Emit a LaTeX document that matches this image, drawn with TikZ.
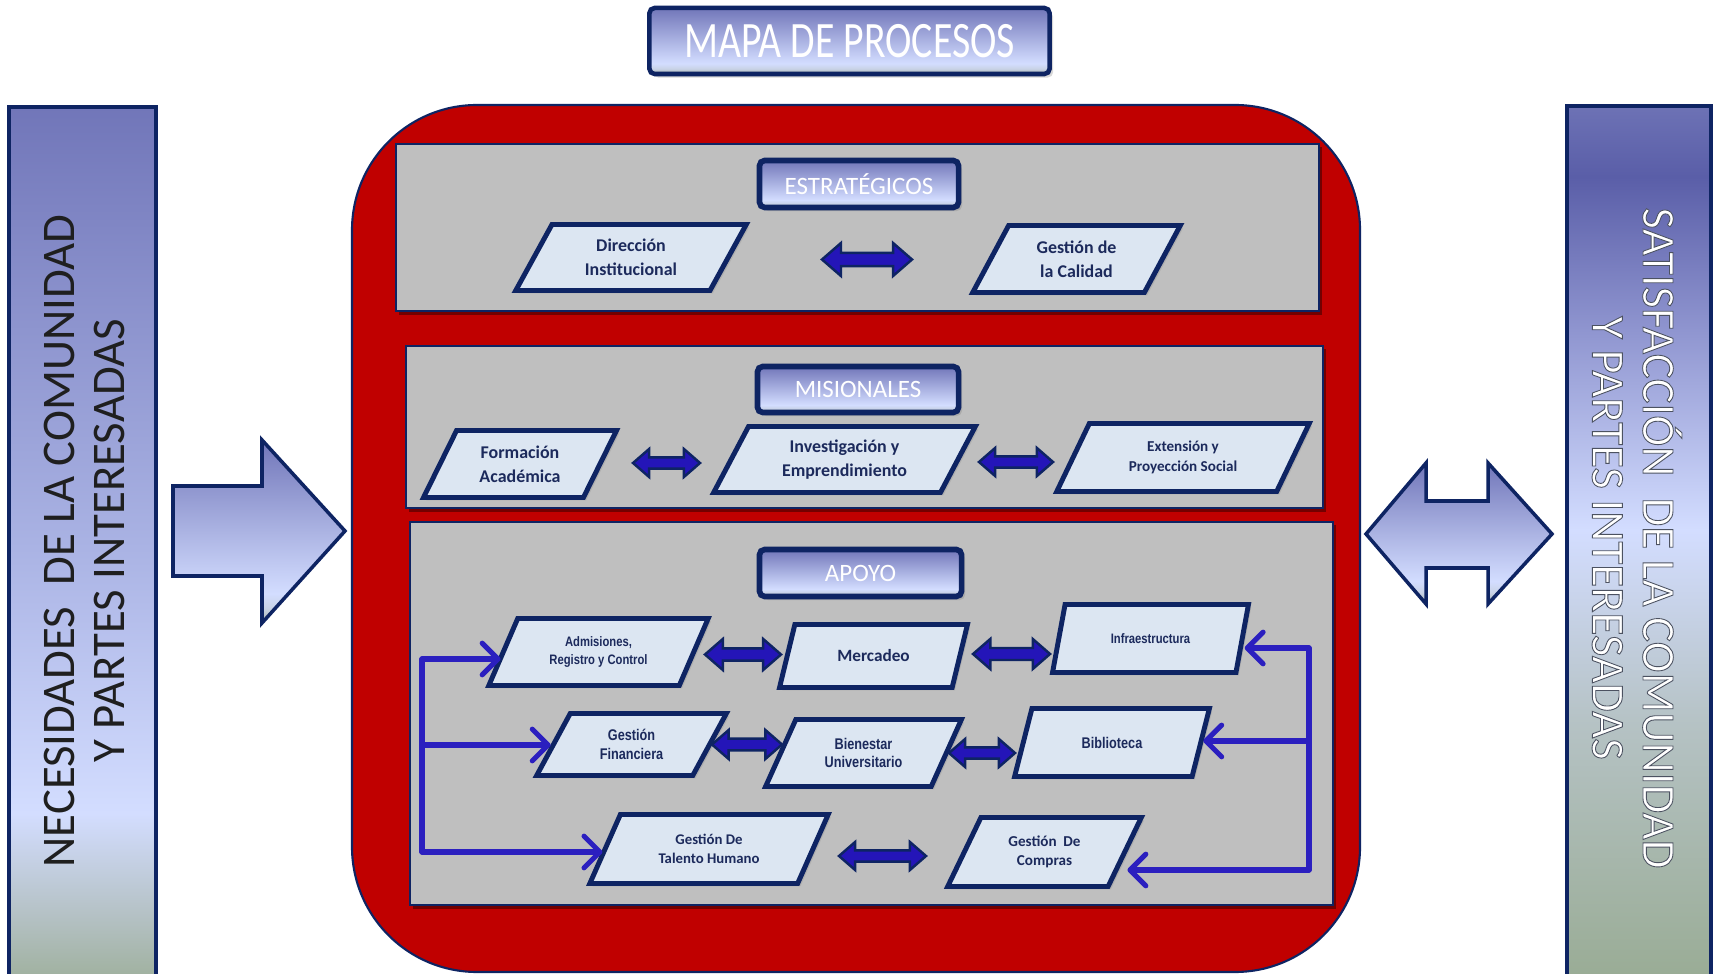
\documentclass[tikz,border=0pt]{standalone}
\usepackage{fontspec}
\setmainfont{Carlito}
\newfontfamily\headfont[FakeStretch=0.78]{Carlito}
\newfontfamily\narrowfont[FakeStretch=0.82]{Liberation Sans}
\usetikzlibrary{shapes.geometric, arrows.meta, shadows}

% palette
\definecolor{navy}{HTML}{0E2463}
\definecolor{boxred}{HTML}{C00000}
\definecolor{panelgray}{HTML}{BFBFBF}
\definecolor{parafill}{HTML}{DCE6F2}
\definecolor{paratext}{HTML}{1C2A5C}
\definecolor{linkblue}{HTML}{2B1FBF}
\definecolor{arrowblue}{HTML}{2415B8}
% gradient stops
\definecolor{gdark}{HTML}{7176B9}
\definecolor{gmid}{HTML}{AAB3E4}
\definecolor{glight}{HTML}{D3DDFF}
\definecolor{gsoft}{HTML}{B3C0C2}
\definecolor{ggreen}{HTML}{9CAE98}
\definecolor{rdark}{HTML}{5A5EA8}
\definecolor{rtop}{HTML}{6D72B5}
\definecolor{rmid}{HTML}{9197D1}
\definecolor{rgray}{HTML}{B5C2C4}
\definecolor{rgreen}{HTML}{98AB93}
\definecolor{pgreen}{HTML}{A4B0A6}
\definecolor{psoft}{HTML}{C8D2E6}

% bottom of the path = 25bp, top = 75bp
\pgfdeclareverticalshading{sidebarL}{100bp}{color(0bp)=(ggreen); color(25bp)=(ggreen); color(29bp)=(gsoft); color(35bp)=(glight); color(50bp)=(gmid); color(75bp)=(gdark); color(100bp)=(gdark)}
\pgfdeclareverticalshading{sidebarR}{100bp}{color(0bp)=(rgreen); color(25bp)=(rgreen); color(40bp)=(rgray); color(51bp)=(glight); color(62bp)=(rmid); color(71bp)=(rdark); color(75bp)=(rtop); color(100bp)=(rtop)}
\pgfdeclareverticalshading{plate}{100bp}{color(0bp)=(pgreen); color(25bp)=(pgreen); color(29bp)=(psoft); color(33bp)=(glight); color(75bp)=(gdark); color(100bp)=(gdark)}

% outlined text for the right-hand bar
\newcommand\outlinedtext[1]{\special{pdf:literal direct 2 Tr 0.25 w 0.30 0.32 0.38 RG}#1\special{pdf:literal direct 0 Tr}}

\begin{document}
\begin{tikzpicture}[x=0.01cm, y=-0.01cm,
  para/.style={trapezium, trapezium left angle=60, trapezium right angle=120,
    trapezium stretches=true, draw=navy, line width=1.4pt, fill=parafill,
    inner sep=0pt, align=center, text=paratext,
    drop shadow={opacity=.25, shadow xshift=.8pt, shadow yshift=-.8pt}},
  topfont/.style={font=\bfseries\fontsize{5.1}{6.8}\selectfont},
  smallfont/.style={font=\narrowfont\bfseries\fontsize{3.9}{5}\selectfont},
  midfont/.style={font=\narrowfont\bfseries\fontsize{4.4}{5.3}\selectfont},
  label/.style={draw=navy, line width=1.6pt, shade, shading=plate, rounded corners=1.5pt,
    text=white, inner sep=0pt, font=\fontsize{7.1}{8}\selectfont,
    drop shadow={opacity=.3, shadow xshift=1pt, shadow yshift=-1pt}},
  panel/.style={draw=navy, line width=0.45pt, fill=panelgray},
  panelshadow/.style={fill=black, opacity=.4},
  blockarrow/.style={draw=navy, line width=1pt, line join=miter, shade, shading=plate},
  dblarrow/.style={draw=navy, line width=0.7pt, fill=arrowblue, line join=miter},
  conn/.style={draw=linkblue, line width=1.45pt, line cap=round, line join=round},
  tipc/.style={-{Straight Barb[length=4.5pt, width=9pt, round]}},
  sidetext/.style={align=center, inner sep=0pt, font=\fontsize{13.3}{14.4}\selectfont},
  pics/dbl/.style 2 args={code={
    \draw[dblarrow] (-#1,0) -- (-#1+#2*1.15,-#2) -- (-#1+#2*1.15,-#2*0.4)
      -- (#1-#2*1.15,-#2*0.4) -- (#1-#2*1.15,-#2) -- (#1,0)
      -- (#1-#2*1.15,#2) -- (#1-#2*1.15,#2*0.4) -- (-#1+#2*1.15,#2*0.4)
      -- (-#1+#2*1.15,#2) -- cycle;
  }}
]
\useasboundingbox (0,0) rectangle (1713,974);
\fill[white] (0,0) rectangle (1713,974);

% ---- title ----
\node[label, line width=1.3pt, minimum width=4cm, minimum height=0.66cm,
  font=\headfont\fontsize{14.5}{16}\selectfont] (title) at (849.5,41) {MAPA DE PROCESOS};

% ---- side bars ----
\shadedraw[shading=sidebarL, draw=navy, line width=1pt] (9,107) rectangle (156,990);
\node[sidetext, rotate=90, text=black!88] (needs) at (84.5,541)
  {NECESIDADES\ \ DE LA COMUNIDAD\\Y PARTES INTERESADAS};

\shadedraw[shading=sidebarR, draw=navy, line width=1pt] (1567,106) rectangle (1711,990);
\node[sidetext, rotate=-90, text=white] (satis) at (1637,538)
  {\outlinedtext{SATISFACCIÓN\ \ DE LA COMUNIDAD}\\\outlinedtext{Y PARTES INTERESADAS}};

% ---- block arrows outside the container ----
\path[blockarrow] (173,486) -- (262,486) -- (262,440) -- (345,531) -- (262,623)
  -- (262,576) -- (173,576) -- cycle;
\path[blockarrow] (1366,534) -- (1426,463) -- (1426,501) -- (1488,501) -- (1488,463)
  -- (1552,534) -- (1488,604) -- (1488,568) -- (1426,568) -- (1426,604) -- cycle;

% ---- red container ----
\draw[fill=boxred, draw=navy, line width=0.6pt, rounded corners=1.25cm] (352,105) rectangle (1360,972);

% ---- panels ----
\fill[panelshadow] (399,147) rectangle (1322,315);
\draw[panel] (396,144) rectangle (1319,311);
\fill[panelshadow] (409,349) rectangle (1326,512);
\draw[panel] (406,346) rectangle (1323,508);
\fill[panelshadow] (413,525) rectangle (1336,909);
\draw[panel] (410,522) rectangle (1333,905);

% ---- panel headings ----
\node[label, minimum width=1.99cm, minimum height=0.47cm] (lblE) at (859,184) {ESTRATÉGICOS};
\node[label, minimum width=2.01cm, minimum height=0.46cm] (lblM) at (858,389.5) {MISIONALES};
\node[label, minimum width=2.02cm, minimum height=0.47cm] (lblA) at (860.5,573) {APOYO};

% ---- strategic processes ----
\node[para, topfont, minimum width=2.31cm, minimum height=0.66cm] (dir) at (631,257.5) {Dirección\\Institucional};
\node[para, topfont, minimum width=2.08cm, minimum height=0.67cm] (cal) at (1076.5,259) {Gestión de\\la Calidad};
\pic at (867,259.5) {dbl={45}{16.5}};

% ---- mission processes ----
\node[para, topfont, minimum width=1.93cm, minimum height=0.67cm] (form) at (520,464) {Formación\\Académica};
\node[para, topfont, minimum width=2.62cm, minimum height=0.66cm] (inv) at (844.5,459.5) {Investigación y\\Emprendimiento};
\node[para, font=\bfseries\fontsize{4.3}{5.6}\selectfont, minimum width=2.53cm, minimum height=0.68cm] (ext) at (1183,457.5) {Extensión y\\Proyección Social};
\pic at (666.5,463) {dbl={33.5}{14}};
\pic at (1016,462) {dbl={37}{14}};

% ---- support processes ----
\node[para, smallfont, minimum width=2.20cm, minimum height=0.67cm] (adm) at (598.5,652) {Admisiones,\\Registro y Control};
\node[para, font=\bfseries\fontsize{4.9}{6}\selectfont, minimum width=1.88cm, minimum height=0.63cm] (mer) at (873.5,656) {Mercadeo};
\node[para, smallfont, minimum width=1.96cm, minimum height=0.68cm] (inf) at (1150.5,638.5) {Infraestructura};
\node[para, midfont, minimum width=1.90cm, minimum height=0.62cm] (fin) at (631.5,744.5) {Gestión\\Financiera};
\node[para, midfont, minimum width=1.96cm, minimum height=0.67cm] (bie) at (863.5,753) {Bienestar\\Universitario};
\node[para, midfont, minimum width=1.95cm, minimum height=0.68cm] (bib) at (1112,742.5) {Biblioteca};
\node[para, font=\bfseries\fontsize{4.2}{5.6}\selectfont, minimum width=2.39cm, minimum height=0.69cm] (tal) at (709,849) {Gestión De\\Talento Humano};
\node[para, font=\bfseries\fontsize{4.3}{5.6}\selectfont, minimum width=1.94cm, minimum height=0.69cm] (com) at (1044.5,852) {Gestión\ \ De\\Compras};
\pic at (743,654.5) {dbl={38}{15.5}};
\pic at (1011.5,654) {dbl={38.5}{15}};
\pic at (747,744.5) {dbl={35}{14.5}};
\pic at (982,753) {dbl={33}{14}};
\pic at (882.5,856) {dbl={43.5}{14}};

% ---- feed lines ----
\coordinate (jl1) at (422,659);
\coordinate (jl2) at (422,745);
\coordinate (jl3) at (422,852);
\draw[conn] (jl1) -- (jl3);
\draw[conn, tipc] (jl1) -- (adm.west |- jl1);
\draw[conn, tipc] (jl2) -- (fin.west |- jl2);
\draw[conn, tipc] (jl3) -- (tal.west |- jl3);

\coordinate (jr1) at (1309,648);
\coordinate (jr2) at (1309,741);
\coordinate (jr3) at (1309,870);
\draw[conn] (jr1) -- (jr3);
\draw[conn, tipc] (jr1) -- (inf.east |- jr1);
\draw[conn, tipc] (jr2) -- (bib.east |- jr2);
\draw[conn, tipc] (jr3) -- (com.east |- jr3);
\end{tikzpicture}
\end{document}
